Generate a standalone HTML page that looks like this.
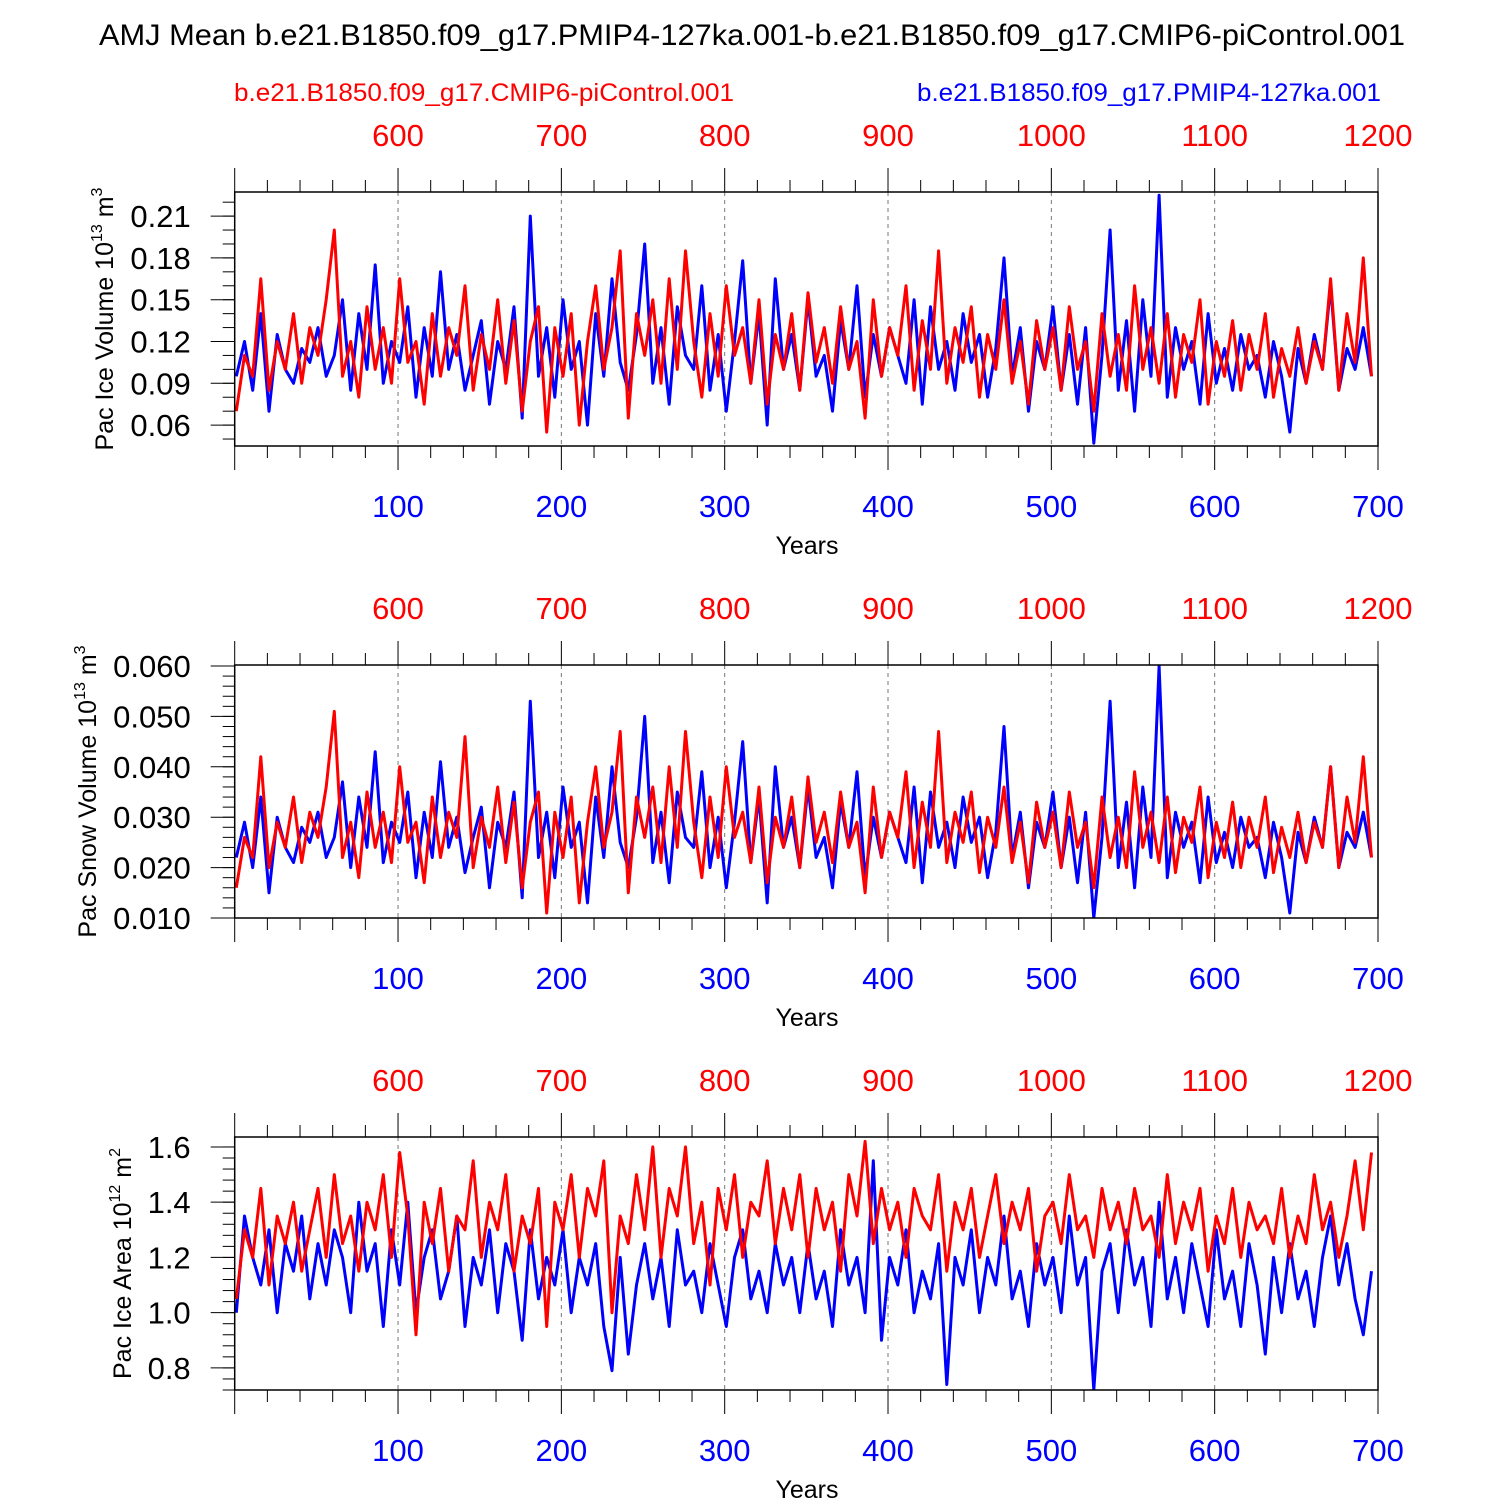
<!DOCTYPE html>
<html><head><meta charset="utf-8"><style>
html,body{margin:0;padding:0;background:#fff;}
svg{display:block;font-family:"Liberation Sans",Arial,sans-serif;}
</style></head><body>
<svg id="chart" width="1500" height="1500" viewBox="0 0 1500 1500" xmlns="http://www.w3.org/2000/svg">
<text x="752" y="45" font-size="29.5" text-anchor="middle" textLength="1306" lengthAdjust="spacingAndGlyphs">AMJ Mean b.e21.B1850.f09_g17.PMIP4-127ka.001-b.e21.B1850.f09_g17.CMIP6-piControl.001</text>
<text x="234" y="101" font-size="25" fill="#f00" textLength="500" lengthAdjust="spacingAndGlyphs">b.e21.B1850.f09_g17.CMIP6-piControl.001</text>
<text x="917" y="101" font-size="25" fill="#00f" textLength="464" lengthAdjust="spacingAndGlyphs">b.e21.B1850.f09_g17.PMIP4-127ka.001</text>
</svg>
<script>
const START_YEAR = 1, STEP = 5;
const xTicksBlue = [100,200,300,400,500,600,700];
const xTicksRed = [600,700,800,900,1000,1100,1200];
const iceTicks = [0.06,0.09,0.12,0.15,0.18,0.21];
const iceTickLabels = ["0.06","0.09","0.12","0.15","0.18","0.21"];
const snowTicks = [0.010,0.020,0.030,0.040,0.050,0.060];
const snowTickLabels = ["0.010","0.020","0.030","0.040","0.050","0.060"];
const areaTicks = [0.8,1.0,1.2,1.4,1.6];
const areaTickLabels = ["0.8","1.0","1.2","1.4","1.6"];

const iceBlue = [.095,.120,.085,.140,.070,.125,.100,.090,.115,.105,.130,.095,.110,.150,.085,.140,.100,.175,.090,.120,.105,.145,.080,.130,.095,.170,.100,.125,.085,.110,.135,.075,.120,.100,.145,.065,.210,.095,.130,.080,.150,.100,.120,.060,.140,.095,.165,.105,.085,.125,.190,.090,.130,.075,.145,.110,.100,.160,.085,.125,.070,.120,.178,.090,.140,.060,.165,.100,.125,.085,.150,.095,.110,.070,.135,.100,.160,.080,.125,.095,.130,.110,.090,.150,.075,.145,.100,.120,.085,.140,.105,.125,.080,.115,.180,.095,.130,.070,.120,.100,.145,.085,.125,.075,.130,.047,.110,.200,.085,.135,.070,.150,.095,.225,.080,.130,.100,.120,.075,.140,.090,.115,.085,.125,.100,.110,.080,.120,.095,.055,.115,.090,.125,.100,.160,.085,.115,.100,.130,.095];
const iceRed = [.070,.110,.095,.165,.085,.120,.100,.140,.090,.130,.110,.150,.200,.095,.120,.080,.145,.100,.130,.090,.165,.105,.120,.075,.140,.095,.130,.110,.160,.085,.125,.100,.150,.090,.135,.070,.120,.145,.055,.130,.095,.140,.060,.120,.160,.100,.130,.185,.065,.140,.110,.150,.090,.165,.100,.185,.120,.080,.140,.095,.160,.110,.130,.090,.150,.075,.125,.100,.140,.085,.155,.105,.130,.090,.145,.100,.120,.065,.150,.095,.130,.110,.160,.085,.135,.100,.185,.090,.130,.105,.145,.080,.125,.100,.150,.090,.120,.075,.135,.100,.130,.085,.145,.100,.120,.070,.140,.095,.125,.085,.160,.100,.130,.090,.140,.080,.125,.105,.150,.075,.120,.095,.135,.085,.125,.100,.140,.080,.115,.095,.130,.090,.120,.100,.165,.085,.140,.105,.180,.095];
const snowBlue = [.022,.029,.020,.034,.015,.030,.024,.021,.028,.025,.031,.022,.026,.037,.020,.034,.024,.043,.021,.029,.025,.035,.018,.031,.022,.041,.024,.030,.019,.026,.032,.016,.029,.024,.035,.014,.053,.022,.031,.018,.036,.024,.029,.013,.034,.022,.040,.025,.020,.030,.050,.021,.031,.017,.035,.026,.024,.039,.020,.030,.016,.029,.045,.021,.034,.013,.040,.024,.030,.020,.036,.022,.026,.016,.033,.024,.039,.018,.030,.022,.031,.026,.021,.036,.017,.035,.024,.029,.020,.034,.025,.030,.018,.027,.048,.022,.031,.016,.029,.024,.035,.020,.030,.017,.031,.010,.026,.053,.020,.033,.016,.036,.022,.060,.018,.031,.024,.029,.017,.034,.021,.027,.020,.030,.024,.026,.018,.029,.022,.011,.027,.021,.030,.024,.040,.020,.027,.024,.031,.022];
const snowRed = [.016,.026,.022,.042,.020,.029,.024,.034,.021,.031,.026,.036,.051,.022,.029,.018,.035,.024,.031,.021,.040,.025,.029,.017,.034,.022,.031,.026,.046,.020,.030,.024,.036,.021,.033,.016,.029,.035,.011,.031,.022,.034,.013,.029,.040,.024,.031,.047,.015,.034,.026,.036,.021,.040,.024,.047,.029,.018,.034,.022,.040,.026,.031,.021,.036,.017,.030,.024,.034,.020,.038,.025,.031,.021,.035,.024,.029,.015,.036,.022,.031,.026,.039,.020,.033,.024,.047,.021,.031,.025,.035,.019,.030,.024,.036,.021,.029,.017,.033,.024,.031,.020,.035,.024,.029,.016,.034,.022,.030,.020,.039,.024,.031,.021,.034,.019,.030,.025,.036,.018,.029,.022,.033,.020,.030,.024,.034,.019,.028,.022,.031,.021,.029,.024,.040,.020,.034,.025,.042,.022];
const areaBlue = [1.00,1.35,1.20,1.10,1.30,1.00,1.25,1.15,1.35,1.05,1.25,1.10,1.30,1.20,1.00,1.40,1.15,1.25,0.95,1.30,1.10,1.40,1.00,1.20,1.30,1.05,1.15,1.35,0.95,1.20,1.10,1.30,1.00,1.25,1.15,0.90,1.30,1.05,1.20,1.10,1.30,1.00,1.20,1.10,1.25,0.95,0.79,1.20,0.85,1.10,1.25,1.05,1.20,0.95,1.30,1.10,1.15,1.00,1.25,1.10,0.95,1.20,1.30,1.05,1.15,1.00,1.25,1.10,1.20,1.00,1.25,1.05,1.15,0.95,1.30,1.10,1.20,1.00,1.55,0.90,1.20,1.10,1.30,1.00,1.15,1.05,1.25,0.74,1.20,1.10,1.30,1.00,1.20,1.10,1.35,1.05,1.15,0.95,1.25,1.10,1.20,1.00,1.35,1.10,1.20,0.72,1.15,1.25,1.00,1.30,1.10,1.20,0.95,1.40,1.05,1.20,1.00,1.25,1.10,0.95,1.30,1.05,1.15,0.95,1.25,1.10,0.85,1.20,1.00,1.25,1.05,1.15,0.95,1.20,1.35,1.10,1.25,1.05,0.92,1.15];
const areaRed = [1.05,1.30,1.20,1.45,1.10,1.35,1.25,1.40,1.15,1.30,1.45,1.20,1.50,1.25,1.35,1.15,1.40,1.30,1.50,1.20,1.58,1.35,0.92,1.40,1.25,1.45,1.15,1.35,1.30,1.55,1.20,1.40,1.30,1.50,1.15,1.35,1.25,1.45,0.95,1.40,1.30,1.50,1.20,1.45,1.35,1.55,1.00,1.35,1.25,1.50,1.30,1.60,1.20,1.45,1.35,1.60,1.25,1.40,1.10,1.45,1.30,1.50,1.20,1.40,1.35,1.55,1.25,1.45,1.30,1.50,1.20,1.45,1.30,1.40,1.15,1.50,1.35,1.62,1.25,1.45,1.30,1.40,1.20,1.45,1.35,1.30,1.50,1.15,1.40,1.30,1.45,1.20,1.35,1.50,1.25,1.40,1.30,1.45,1.15,1.35,1.40,1.25,1.50,1.30,1.35,1.20,1.45,1.30,1.40,1.25,1.45,1.30,1.35,1.20,1.50,1.25,1.40,1.30,1.45,1.15,1.35,1.25,1.45,1.20,1.40,1.30,1.35,1.25,1.45,1.20,1.35,1.25,1.50,1.30,1.40,1.20,1.35,1.55,1.30,1.58];

const NS = "http://www.w3.org/2000/svg";
const svg = document.getElementById('chart');
function mk(tag, attrs, parent){const e=document.createElementNS(NS,tag);for(const k in attrs)e.setAttribute(k,attrs[k]);(parent||svg).appendChild(e);return e;}

const X0=234.7, X1=1378;
const xScale = yr => X0 + (yr/700)*(X1-X0);

const panels = [
 {name:'ice-volume', top:192, bot:446, ymin:0.045, ymax:0.2273, ticks:iceTicks, labels:iceTickLabels, minor:0.01, blue:iceBlue, red:iceRed, title:['Pac Ice Volume 10','13',' m','3'], tx:113},
 {name:'snow-volume', top:665, bot:918, ymin:0.010, ymax:0.0602, ticks:snowTicks, labels:snowTickLabels, minor:0.002, blue:snowBlue, red:snowRed, title:['Pac Snow Volume 10','13',' m','3'], tx:96},
 {name:'ice-area', top:1137, bot:1390, ymin:0.72, ymax:1.636, ticks:areaTicks, labels:areaTickLabels, minor:0.04, blue:areaBlue, red:areaRed, title:['Pac Ice Area 10','12',' m','2'], tx:131}
];

panels.forEach(p=>{
  const g = mk('g',{});
  
  
  const yS = v => p.bot - (v-p.ymin)/(p.ymax-p.ymin)*(p.bot-p.top);
  xTicksBlue.slice(0,6).forEach(t=>{
    const l=mk('line',{x1:xScale(t),x2:xScale(t),y1:p.top,y2:p.bot,stroke:'#777','stroke-width':1,'stroke-dasharray':'4,4'},g);
    
    
  });
  const cp = mk('clipPath',{id:'clip-'+p.name},g);
  mk('rect',{x:X0,y:p.top,width:X1-X0,height:p.bot-p.top},cp);
  [['blue',p.blue,'#0000ff'],['red',p.red,'#ff0000']].forEach(([nm,arr,col])=>{
    const pts = arr.map((v,i)=>xScale(START_YEAR+i*STEP).toFixed(1)+','+yS(v).toFixed(1)).join(' ');
    const pl = mk('polyline',{points:pts,fill:'none',stroke:col,'stroke-width':3,'stroke-linejoin':'round','clip-path':'url(#clip-'+p.name+')'},g);
    
    
  });
  const fr = mk('rect',{x:X0,y:p.top,width:X1-X0,height:p.bot-p.top,fill:'none',stroke:'#000','stroke-width':1.5},g);
  
  
  for(let yr=0; yr<=700; yr+=20){
    const major = yr%100===0, len = major?24:12, x=xScale(yr);
    mk('line',{x1:x,x2:x,y1:p.bot,y2:p.bot+len,stroke:'#000','stroke-width':1},g);
    mk('line',{x1:x,x2:x,y1:p.top,y2:p.top-len,stroke:'#000','stroke-width':1},g);
  }
  xTicksBlue.forEach(t=>{
    const tx = mk('text',{x:xScale(t),y:p.bot+71,'font-size':31,fill:'#00f','text-anchor':'middle'},g);
    tx.textContent=t;
    
    
  });
  xTicksRed.forEach((t,i)=>{
    const tx = mk('text',{x:xScale(xTicksBlue[i]),y:p.top-46,'font-size':31,fill:'#f00','text-anchor':'middle'},g);
    tx.textContent=t;
    
    
  });
  const xt = mk('text',{x:807,y:p.bot+108,'font-size':25,'text-anchor':'middle'},g);
  xt.textContent='Years';
  
  
  for(let v=p.ticks[0]-5*p.minor; v<=p.ymax+1e-9; v+=p.minor){
    if(v<p.ymin-1e-9) continue;
    const y=yS(v);
    mk('line',{x1:X0,x2:X0-12,y1:y,y2:y,stroke:'#000','stroke-width':1},g);
  }
  p.ticks.forEach((t,i)=>{
    const y=yS(t);
    mk('line',{x1:X0,x2:X0-24,y1:y,y2:y,stroke:'#000','stroke-width':1},g);
    const tx = mk('text',{x:X0-44,y:y+11,'font-size':31,'text-anchor':'end'},g);
    tx.textContent=p.labels[i];
    
    
  });
  const cy=(p.top+p.bot)/2;
  const yt = mk('text',{x:p.tx,y:cy,'font-size':25,'text-anchor':'middle',transform:`rotate(-90 ${p.tx} ${cy})`},g);
  
  
  const t1=mk('tspan',{},yt); t1.textContent=p.title[0];
  const t2=mk('tspan',{'font-size':16,dy:-11},yt); t2.textContent=p.title[1];
  const t3=mk('tspan',{dy:11},yt); t3.textContent=p.title[2];
  const t4=mk('tspan',{'font-size':16,dy:-11},yt); t4.textContent=p.title[3];
});
</script>
</body></html>
